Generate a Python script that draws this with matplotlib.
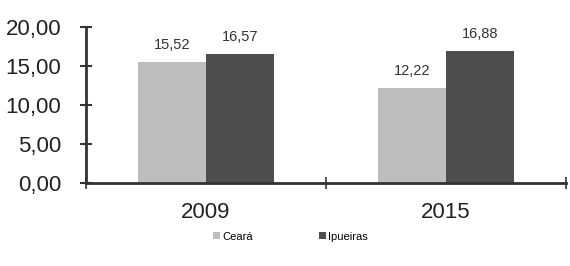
import matplotlib
matplotlib.use("Agg")
import matplotlib.pyplot as plt
import numpy as np

years = ["2009", "2015"]
series_names = ["Ceará", "Ipueiras"]
ceara = [15.52, 12.22]
ipueiras = [16.57, 16.88]
yticks = [0, 5, 10, 15, 20]

plt.rcParams['font.family'] = ['Liberation Sans', 'DejaVu Sans']

fig = plt.figure(figsize=(5.7, 2.66), dpi=100)
ax = fig.add_axes([0.151, 0.312, 0.842, 0.586])

x = np.arange(len(years))
w = 0.285
colors = ["#bdbdbd", "#4d4d4d"]
b1 = ax.bar(x - w/2, ceara, w, color=colors[0], label=series_names[0])
b2 = ax.bar(x + w/2, ipueiras, w, color=colors[1], label=series_names[1])

def fmt(v):
    return f"{v:.2f}".replace(".", ",")

for bars, vals in ((b1, ceara), (b2, ipueiras)):
    for rect, v in zip(bars, vals):
        ax.text(rect.get_x() + rect.get_width()/2, v + 1.3, fmt(v),
                ha="center", va="bottom", fontsize=10.5, color="#333333")

ax.set_xlim(-0.5, 1.5)
ax.set_ylim(0, 20)
ax.set_yticks(yticks)
ax.set_yticklabels([fmt(t) for t in yticks], fontsize=16, color="#222222")
ax.set_xticks(x)
ax.set_xticklabels(years, fontsize=16, color="#222222")
ax.tick_params(axis="x", length=0, pad=14)
ax.set_xticks([-0.5, 0.5, 1.5], minor=True)
ax.tick_params(axis="x", which="minor", direction="inout", length=8, width=1.2, color="#333333")
ax.tick_params(axis="y", direction="inout", length=8, width=1.5, color="#333333", pad=14)

for s in ("top", "right"):
    ax.spines[s].set_visible(False)
for s in ("left", "bottom"):
    ax.spines[s].set_linewidth(2)
    ax.spines[s].set_color("#333333")

fig.legend(handles=[b1, b2], labels=series_names, loc="center",
           bbox_to_anchor=(0.51, 0.11), ncol=2, frameon=False, fontsize=8,
           handlelength=0.6, handleheight=0.6, handletextpad=0.2, columnspacing=6)

fig.savefig("out.png", dpi=100)
